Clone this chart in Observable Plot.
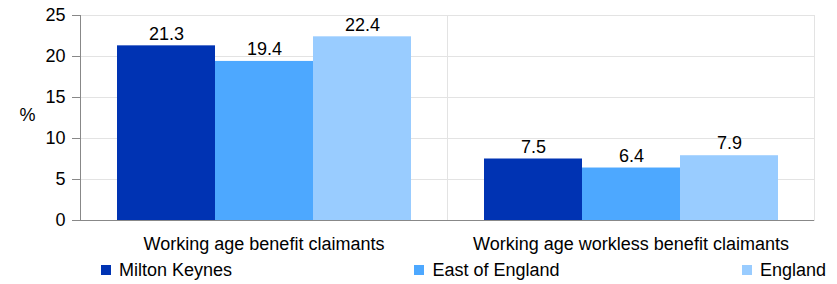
<!DOCTYPE html>
<html>
<head>
<meta charset="utf-8">
<script src="https://cdn.jsdelivr.net/npm/d3@7"></script>
<script src="https://cdn.jsdelivr.net/npm/@observablehq/plot@0.6"></script>
<style>
  html, body { margin: 0; padding: 0; background: #fff; }
  body { width: 837px; height: 284px; overflow: hidden; font-family: "Liberation Sans", Arial, sans-serif; }
  #legend { display: flex; justify-content: space-between; box-sizing: border-box; width: 837px; height: 28px; padding: 0 11px 0 101px; align-items: center; font-size: 18px; color: #000; }
  #legend .item { display: flex; align-items: center; }
  #legend .sw { width: 10px; height: 10px; margin-right: 8px; }
</style>
</head>
<body>
<div id="chart"></div>
<div id="legend"></div>
<script>
const categories = ["Working age benefit claimants", "Working age workless benefit claimants"];
const series = ["Milton Keynes", "East of England", "England"];
const miltonKeynes = [21.3, 7.5];
const eastOfEngland = [19.4, 6.4];
const england = [22.4, 7.9];
const seriesColors = ["#0033b3", "#4da8ff", "#99ccff"];
const yTicks = [0, 5, 10, 15, 20, 25];

const valuesBySeries = [miltonKeynes, eastOfEngland, england];
const data = [];
categories.forEach((cat, i) => {
  series.forEach((s, j) => data.push({cat, series: s, value: valuesBySeries[j][i]}));
});

const chart = Plot.plot({
  width: 837,
  height: 256,
  marginLeft: 79,
  marginRight: 23,
  marginTop: 15,
  marginBottom: 36,
  style: {fontFamily: "'Liberation Sans', Arial, sans-serif", fontSize: "18px", background: "#fff"},
  fx: {domain: categories, padding: 0, label: null},
  x: {domain: series, paddingInner: 0, paddingOuter: 0.37, axis: null},
  y: {domain: [0, 25], ticks: yTicks, label: null},
  color: {domain: series, range: seriesColors},
  marks: [
    Plot.gridY(yTicks, {stroke: "#e3e3e3", strokeOpacity: 1}),
    Plot.frame({stroke: "#e3e3e3"}),
    Plot.barY(data, {fx: "cat", x: "series", y: "value", fill: "series"}),
    Plot.text(data, {fx: "cat", x: "series", y: "value", text: d => d.value.toFixed(1), dy: -12, fontSize: 18, fill: "#000"}),
    Plot.ruleY([0], {stroke: "#888"}),
    Plot.frame({anchor: "left", stroke: "#888", facet: "super"}),
    Plot.axisY(yTicks, {tickSize: 8, tickPadding: 7, fontSize: 18, stroke: "#888", fill: "#000", label: null}),
    Plot.axisFx({anchor: "bottom", tickSize: 0, tickPadding: 17, fontSize: 18, fill: "#000", label: null}),
    Plot.text(["%"], {facet: "super", frameAnchor: "left", dx: -61, dy: -3, fontSize: 18, fill: "#000"})
  ]
});
document.getElementById("chart").appendChild(chart);

const legend = document.getElementById("legend");
series.forEach((s, i) => {
  const item = document.createElement("div");
  item.className = "item";
  const sw = document.createElement("div");
  sw.className = "sw";
  sw.style.background = seriesColors[i];
  const label = document.createElement("span");
  label.textContent = s;
  item.appendChild(sw);
  item.appendChild(label);
  legend.appendChild(item);
});
</script>
</body>
</html>
